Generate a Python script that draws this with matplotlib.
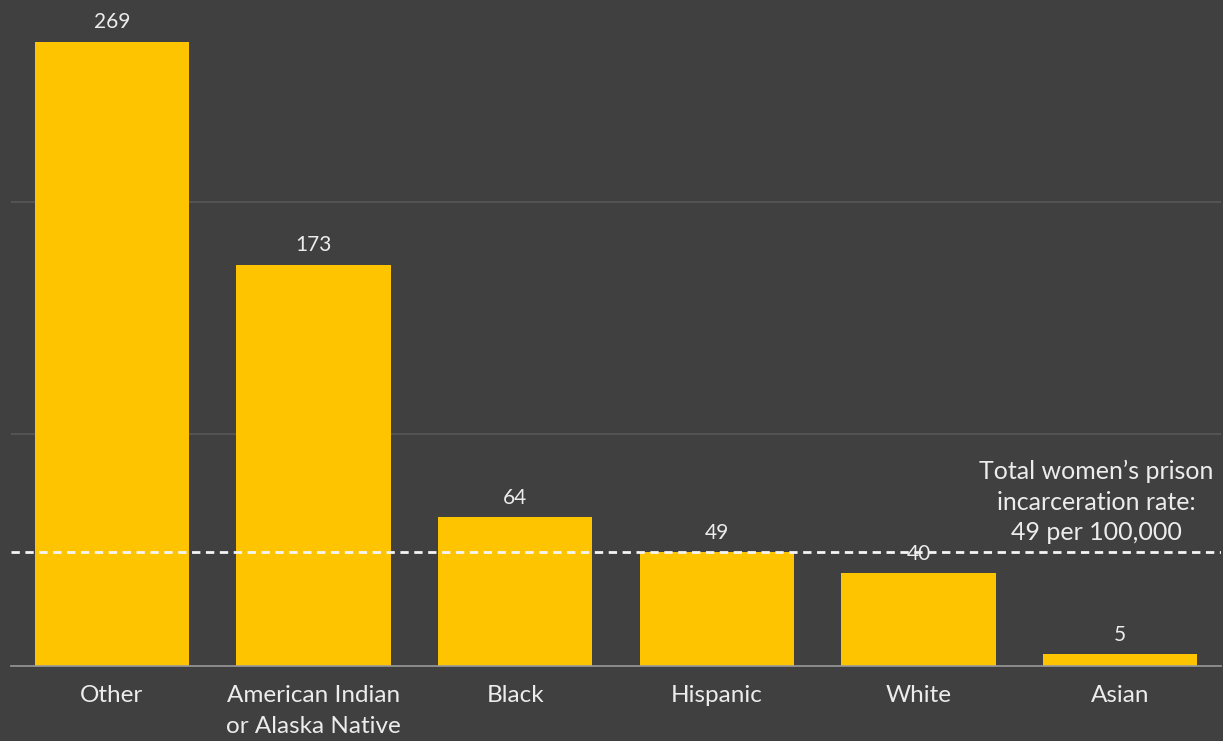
import matplotlib
matplotlib.use("Agg")
import matplotlib.pyplot as plt

categories = ["Other", "American Indian\nor Alaska Native", "Black", "Hispanic", "White", "Asian"]
rates = [269, 173, 64, 49, 40, 5]
total_rate = 49
note = "Total women\u2019s prison\nincarceration rate:\n49 per 100,000"

BG = "#404040"
BAR = "#FFC400"
TXT = "#ececec"

plt.rcParams["font.family"] = ["Lato", "DejaVu Sans"]

fig = plt.figure(figsize=(12.23, 7.41), dpi=100, facecolor=BG)
ax = fig.add_axes([11 / 1223, 75 / 741, 1210 / 1223, 666 / 741])
ax.set_facecolor(BG)

x = list(range(len(categories)))
ax.bar(x, rates, width=0.765, color=BAR, zorder=2)
for xi, v in zip(x, rates):
    ax.text(xi, v + 4, str(v), ha="center", va="bottom", color=TXT, fontsize=15, zorder=4)

ax.axhline(total_rate, color="#f4f4f4", linestyle=(0, (3, 2)), linewidth=2, zorder=3)
ax.text(4.88, total_rate + 3.5, note, ha="center", va="bottom", color=TXT,
        fontsize=18, linespacing=1.4, zorder=4)

ax.set_xlim(-0.5, 5.5)
ax.set_ylim(0, 287)
ax.set_yticks([100, 200])
ax.yaxis.grid(True, color="#575757", linewidth=1.2, zorder=0)
ax.tick_params(axis="y", left=False, labelleft=False)
ax.set_xticks(x)
ax.set_xticklabels(categories, color=TXT, fontsize=17.5, linespacing=1.55)
ax.tick_params(axis="x", length=0, pad=14)
for s in ["top", "left", "right"]:
    ax.spines[s].set_visible(False)
ax.spines["bottom"].set_color("#9a9a9a")
ax.spines["bottom"].set_linewidth(1.2)

fig.savefig("out.png", dpi=100, facecolor=BG)
